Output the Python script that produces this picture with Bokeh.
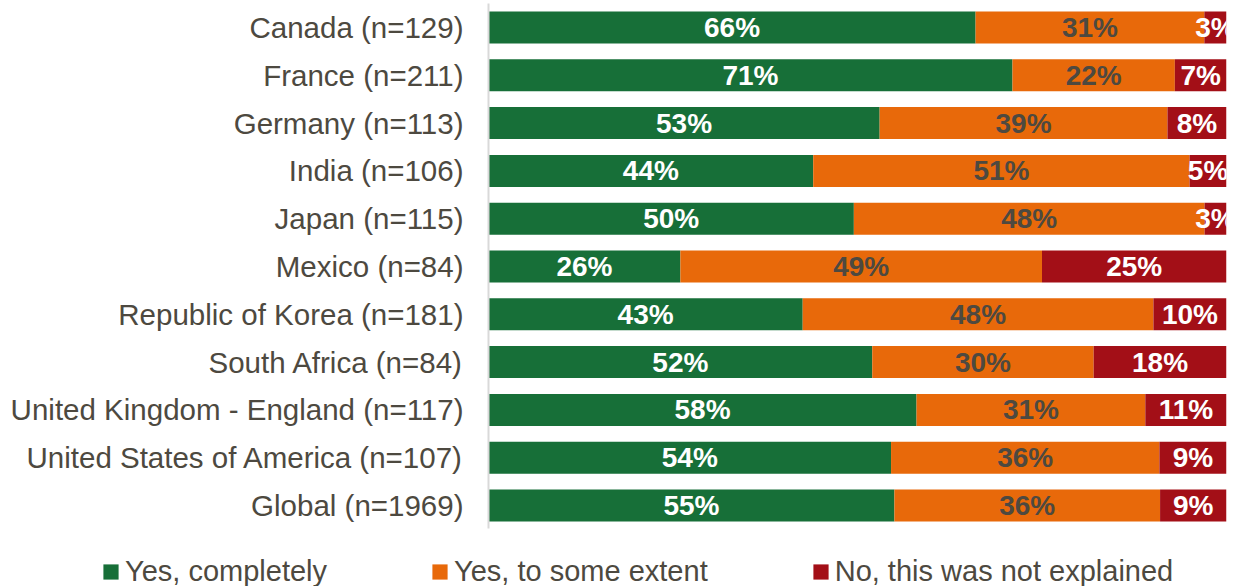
from bokeh.plotting import figure
from bokeh.models import ColumnDataSource, Range1d, Legend, LegendItem, LabelSet
from bokeh.core.properties import value
from bokeh.embed import file_html
from bokeh.resources import INLINE

categories = [
    "Canada (n=129)", "France (n=211)", "Germany (n=113)", "India (n=106)",
    "Japan (n=115)", "Mexico (n=84)", "Republic of Korea (n=181)",
    "South Africa (n=84)", "United Kingdom - England (n=117)",
    "United States of America (n=107)", "Global (n=1969)",
]
yes_completely = [66, 71, 53, 44, 50, 26, 43, 52, 58, 54, 55]
yes_some_extent = [31, 22, 39, 51, 48, 49, 48, 30, 31, 36, 36]
no_not_explained = [3, 7, 8, 5, 3, 25, 10, 18, 11, 9, 9]
series_names = ["Yes, completely", "Yes, to some extent", "No, this was not explained"]

GREEN = "#176F38"
ORANGE = "#E8690A"
RED = "#A30F17"
TXT = "#4D4940"
AXIS = "#D9D9D9"
FONT = "Liberation Sans"

n = len(categories)
ypos = [n - 1 - i for i in range(n)]  # Canada on top

# normalise each row so the stacked bar spans 100%
g, o, r = [], [], []
for a, b, c in zip(yes_completely, yes_some_extent, no_not_explained):
    t = a + b + c
    g.append(a / t * 100)
    o.append(b / t * 100)
    r.append(c / t * 100)

src = ColumnDataSource(dict(
    y=ypos, cat=categories, g=g, o=o, r=r,
    zero=[0] * n,
    g_mid=[v / 2 for v in g],
    o_mid=[a + b / 2 for a, b in zip(g, o)],
    r_mid=[a + b + c / 2 for a, b, c in zip(g, o, r)],
    g_lab=[f"{v}%" for v in yes_completely],
    o_lab=[f"{v}%" for v in yes_some_extent],
    r_lab=[f"{v}%" for v in no_not_explained],
))

# frame covers the whole page (minus a small right margin); the value 0 sits at x=488 px
px_per_unit = (1226 - 488) / 100
row_px = 47.8
p = figure(
    width=1239, height=586,
    x_range=Range1d(-488 / px_per_unit, 100),
    y_range=Range1d(-(586 - 505) / row_px, (n - 1) + 27 / row_px),
    output_backend="svg", toolbar_location=None,
    min_border_left=0, min_border_right=13, min_border_top=0, min_border_bottom=0,
)
p.outline_line_color = None
p.background_fill_color = "white"
p.border_fill_color = "white"
p.xaxis.visible = False
p.yaxis.visible = False
p.grid.visible = False

renderers = p.hbar_stack(["g", "o", "r"], y="y", height=0.67, source=src,
                         color=[GREEN, ORANGE, RED], line_color=None)

# category axis line
p.segment(x0=0, y0=(n - 1) + 0.5, x1=0, y1=-0.48, line_color=AXIS, line_width=2)

# category labels
p.text(x="zero", y="y", text="cat", source=src, x_offset=-25,
       text_align="right", text_baseline="middle", text_color=TXT,
       text_font=value(FONT), text_font_size="29.5px")

for col, lab, color in [("g_mid", "g_lab", "white"), ("o_mid", "o_lab", TXT), ("r_mid", "r_lab", "white")]:
    ls = LabelSet(x=col, y="y", text=lab, source=src, text_align="center",
                  text_baseline="middle", text_color=color, text_font=value(FONT),
                  text_font_size="28px", text_font_style="bold")
    p.add_layout(ls)

legend = Legend(
    items=[LegendItem(label=nm, renderers=[rr]) for nm, rr in zip(series_names, renderers)],
    orientation="horizontal", location=(101, -2),
    glyph_width=19, glyph_height=19, label_standoff=5, spacing=103,
    label_text_font=FONT, label_text_font_size="29px", label_text_color=TXT,
    border_line_color=None, background_fill_alpha=0, padding=0, margin=0,
)
p.add_layout(legend, "center")

open("out.html", "w").write(file_html(p, INLINE))
